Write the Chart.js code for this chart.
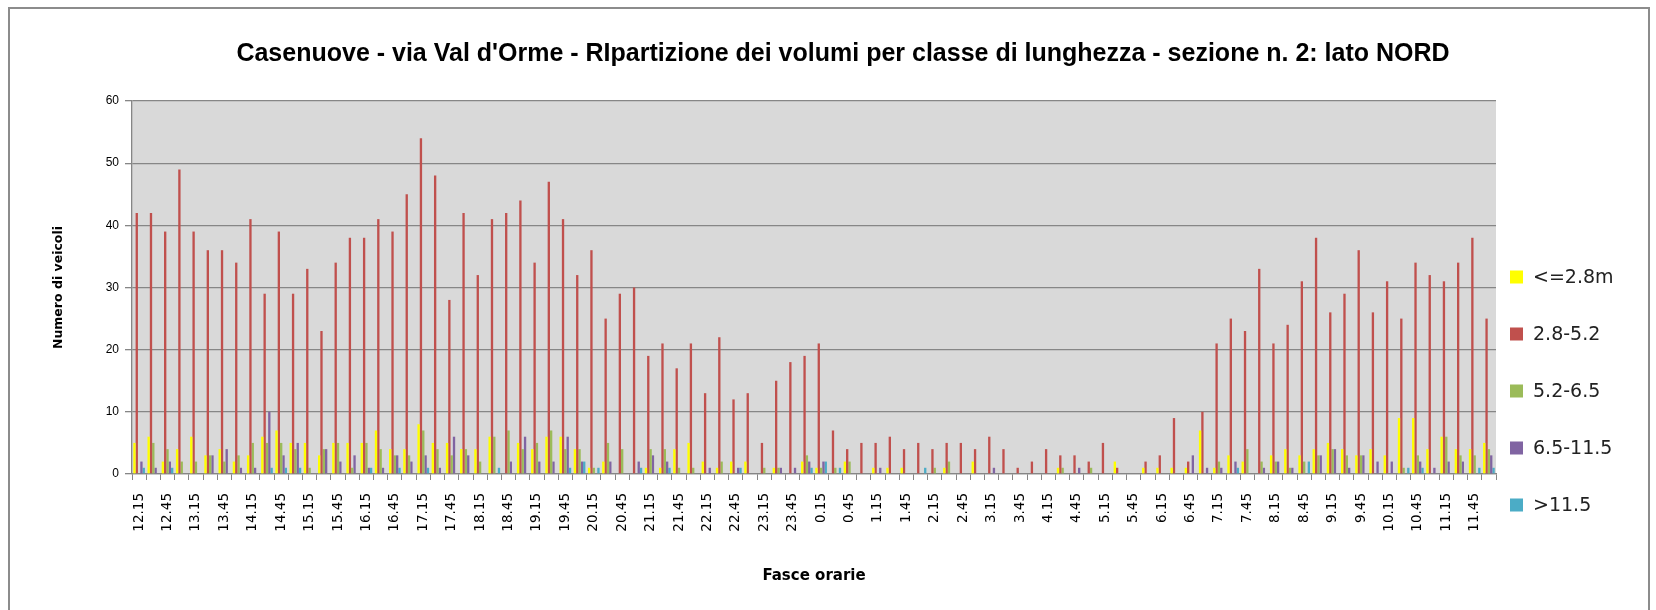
<!DOCTYPE html>
<html><head><meta charset="utf-8">
<script src="https://cdn.jsdelivr.net/npm/chart.js@4.4.1/dist/chart.umd.min.js"></script>
<style>
html,body{margin:0;padding:0;background:#fff;}
#wrap{position:relative;width:1656px;height:610px;overflow:hidden;background:#fff;}
#frame{position:absolute;left:8px;top:7px;width:1642px;height:660px;border:2px solid #8c8c8c;box-sizing:border-box;}
canvas{position:absolute;left:0;top:0;}
</style></head>
<body><div id="wrap"><div id="frame"></div><canvas id="c" width="1656" height="610"></canvas></div>
<script>
const categories = ['12.15','12.30','12.45','13.00','13.15','13.30','13.45','14.00','14.15','14.30','14.45','15.00','15.15','15.30','15.45','16.00','16.15','16.30','16.45','17.00','17.15','17.30','17.45','18.00','18.15','18.30','18.45','19.00','19.15','19.30','19.45','20.00','20.15','20.30','20.45','21.00','21.15','21.30','21.45','22.00','22.15','22.30','22.45','23.00','23.15','23.30','23.45','0.00','0.15','0.30','0.45','1.00','1.15','1.30','1.45','2.00','2.15','2.30','2.45','3.00','3.15','3.30','3.45','4.00','4.15','4.30','4.45','5.00','5.15','5.30','5.45','6.00','6.15','6.30','6.45','7.00','7.15','7.30','7.45','8.00','8.15','8.30','8.45','9.00','9.15','9.30','9.45','10.00','10.15','10.30','10.45','11.00','11.15','11.30','11.45','12.00'];

const seriesNames = ['<=2.8m','2.8-5.2','5.2-6.5','6.5-11.5','>11.5'];

const len_0_28 = [5,6,2,4,6,3,4,2,3,6, 7,5,5,3,5,5,5,7,4,4, 8,5,5,4,4,6,0,5,4,6, 6,4,1,2,0,0,1,1,4,5, 2,1,2,2,0,1,0,2,1,0, 2,0,1,1,1,0,0,1,0,2, 0,0,0,0,0,1,0,0,0,2, 0,1,1,1,1,7,1,3,2,0, 3,4,3,4,5,4,3,4,3,9, 9,4,6,4,4,5];
const len_28_52 = [42,42,39,49,39,36,36,34,41,29, 39,29,33,23,34,38,38,41,39,45, 54,48,28,42,32,41,42,44,34,47, 41,32,36,25,29,30,19,21,17,21, 13,22,12,13,5,15,18,19,21,7, 4,5,5,6,4,5,4,5,5,4, 6,4,1,2,4,3,3,2,5,1, 0,2,3,9,2,10,21,25,23,33, 21,24,31,38,26,29,36,26,31,25, 34,32,31,34,38,25];
const len_52_65 = [0,5,4,2,2,3,2,3,5,5, 5,4,1,4,5,1,5,4,3,3, 7,4,3,4,2,6,7,4,5,7, 4,4,1,5,4,0,4,4,1,1, 0,2,0,0,1,1,0,3,1,1, 2,0,0,0,0,0,1,2,0,0, 0,0,0,0,0,1,0,1,0,0, 0,0,0,0,0,0,2,0,4,2, 2,1,2,3,4,3,3,0,0,1, 3,0,6,3,3,4];
const len_65_115 = [2,1,2,0,0,3,4,1,1,10, 3,5,0,4,2,3,1,1,3,2, 3,1,6,3,0,0,2,6,2,2, 6,2,0,2,0,2,3,2,0,0, 1,0,1,0,0,1,1,2,2,0, 0,0,1,0,0,0,0,0,0,0, 1,0,0,0,0,0,1,0,0,0, 0,0,0,0,3,1,1,2,0,1, 2,1,0,3,4,1,3,2,2,0, 2,1,2,2,0,3];
const len_over_115 = [1,0,1,0,0,0,0,0,0,1, 1,1,0,0,0,0,1,0,1,0, 1,0,0,0,0,1,0,0,0,0, 1,2,1,0,0,1,0,1,0,0, 0,0,1,0,0,0,0,1,2,1, 0,0,0,0,0,1,0,0,0,0, 0,0,0,0,0,0,0,0,0,0, 0,0,0,0,0,0,0,1,0,0, 0,0,2,0,0,0,0,0,0,1, 1,0,0,0,1,1];

const yTicks = [0,10,20,30,40,50,60];
const colors = ['#FFFF00','#C0504D','#9BBB59','#8064A2','#4BACC6'];
const seriesData = [len_0_28, len_28_52, len_52_65, len_65_115, len_over_115];

const titleText = "Casenuove - via Val d'Orme - RIpartizione dei volumi per classe di lunghezza - sezione n. 2: lato NORD";

const bgPlugin = {
  id: 'bg',
  beforeDraw(chart) {
    const a = chart.chartArea, ctx = chart.ctx;
    ctx.save(); ctx.fillStyle = '#D9D9D9';
    ctx.fillRect(a.left, a.top, a.right - a.left, a.bottom - a.top);
    ctx.restore();
  }
};

const legendPlugin = {
  id: 'sideLegend',
  afterDraw(chart) {
    const ctx = chart.ctx;
    const ys = [277, 334, 391, 448, 505];
    ctx.save();
    ctx.font = '19px "DejaVu Sans"';
    ctx.textBaseline = 'middle';
    ctx.textAlign = 'left';
    chart.data.datasets.forEach((ds, i) => {
      ctx.fillStyle = ds.backgroundColor;
      ctx.fillRect(1510, ys[i] - 6.5, 13, 13);
      ctx.fillStyle = '#222';
      ctx.fillText(ds.label, 1533, ys[i] + 1);
    });
    ctx.restore();
  }
};

new Chart(document.getElementById('c'), {
  type: 'bar',
  data: {
    labels: categories,
    datasets: seriesNames.map((n, i) => ({
      label: n, data: seriesData[i], backgroundColor: colors[i], borderWidth: 0,
      categoryPercentage: 0.82, barPercentage: 1.0
    }))
  },
  options: {
    responsive: false, devicePixelRatio: 1, animation: false,
    layout: { padding: { left: 30, right: 0, top: 0, bottom: 0 } },
    plugins: {
      legend: { display: false },
      tooltip: { enabled: false },
      title: {
        display: true, text: titleText, color: '#000',
        font: { family: 'Liberation Sans', size: 25, weight: 'bold' },
        padding: { top: 39, bottom: 32 }
      }
    },
    scales: {
      x: {
        offset: true,
        afterFit(s) { s.height = 136; },
        grid: { offset: true, drawOnChartArea: false, drawTicks: true, tickLength: 6, color: '#868686', lineWidth: 1 },
        border: { display: true, color: '#868686', width: 1.3 },
        ticks: {
          autoSkip: false, maxRotation: 90, minRotation: 90, padding: 13, color: '#000',
          font: { family: 'DejaVu Sans', size: 13.5 },
          callback: (v, i) => (i % 2 === 0 ? categories[i] : '')
        },
        title: { display: true, text: 'Fasce orarie', color: '#000',
          font: { family: 'DejaVu Sans', size: 15, weight: 'bold' }, padding: { top: 30, bottom: 25 } }
      },
      y: {
        min: 0, max: 60,
        afterFit(s) { s.width = 102; },
        afterBuildTicks(s) { s.ticks = yTicks.map(v => ({ value: v })); },
        grid: { color: '#868686', lineWidth: 1.3, tickLength: 7 },
        border: { display: true, color: '#868686', width: 1.3 },
        ticks: { color: '#000', padding: 6, font: { family: 'Liberation Sans', size: 12 } },
        title: { display: true, text: 'Numero di veicoli', color: '#000',
          font: { family: 'DejaVu Sans', size: 12.5, weight: 'bold' }, padding: { top: 21, bottom: 0 } }
      },
      yr: {
        position: 'right', display: true, min: 0, max: 60,
        afterFit(s) { s.width = 160; },
        grid: { display: false }, border: { display: false }, ticks: { display: false }
      }
    }
  },
  plugins: [bgPlugin, legendPlugin]
});
</script>
</body></html>
